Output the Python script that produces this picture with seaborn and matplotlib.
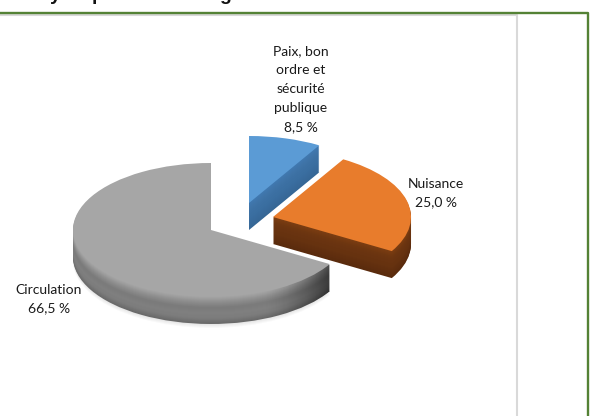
#!/usr/bin/env python3
# Exploded pseudo-3D pie of complaint types, drawn in pixel coordinates
import matplotlib
matplotlib.use('Agg')
import matplotlib.pyplot as plt
import numpy as np
import seaborn as sns
from matplotlib.path import Path
from matplotlib.transforms import Affine2D

categories = ['Circulation', 'Nuisance', 'Paix, bon\nordre et\nsécurité\npublique']
shares = [66.5, 25.0, 8.5]
share_labels = ['66,5 %', '25,0 %', '8,5 %']

top_colors = ['#a6a6a6', '#e87c2c', '#5b9bd5']
side_stops = [
    ['#a2a2a2', '#8c8c8c', '#7a7a7a', '#808080', '#7c7c7c', '#6a6a6a'],
    ['#7a3d12', '#6e3610', '#693310', '#66320f', '#602e0e', '#5a2b0d'],
    ['#4079b0', '#3f74a8', '#3c70a3', '#3a6ea0', '#386a9b', '#366796'],
]
centers = [(211, 230), (273, 217), (249, 203)]
radius_x, radius_y = 138, 67
depth = 27

sns.set_theme(style='white')
plt.rcParams['font.family'] = ['Lato', 'DejaVu Sans']

fig = plt.figure(figsize=(5.94, 4.16), dpi=100)
ax = fig.add_axes([0, 0, 1, 1])


def draw_layer(colors, offset, zorder, alpha=None):
    # pie gives the wedge angles, the affine moves each slice to its place
    wedges, _ = ax.pie(shares, colors=colors, startangle=90)
    paths = []
    for wedge, (cx, cy) in zip(wedges, centers):
        tr = Affine2D().scale(radius_x, -radius_y).translate(cx, cy + offset)
        wedge.set_transform(tr + ax.transData)
        wedge.set_zorder(zorder)
        wedge.set_linewidth(0)
        wedge.set_alpha(alpha)
        paths.append(wedge.get_path().transformed(tr))
    return paths


# soft shadow just under the slices
for d in range(depth + 4, depth, -1):
    draw_layer(['#000000', '#ffffff', '#ffffff'], d, 1.5, alpha=0.025)

# rim, one thin layer per pixel of depth
palettes = [sns.blend_palette(stops, depth) for stops in side_stops]
gray_side = []
for d in range(depth, 0, -1):
    layer = draw_layer([pal[d - 1] for pal in palettes], d, 2)
    gray_side.append(layer[0])
draw_layer(top_colors, 0, 5)

# darker end of the gray rim
shade = np.zeros((1, 64, 4))
shade[..., 3] = np.linspace(0, 0.7, 64) ** 1.6
img = ax.imshow(shade, extent=(262, 332, 330, 240), zorder=3, aspect='auto')
img.set_clip_path(Path.make_compound_path(*gray_side), transform=ax.transData)

ax.set_aspect('auto')
ax.set_xlim(0, 594)
ax.set_ylim(416, 0)
ax.axis('off')

# report frame and chart frame
ax.plot([0, 588, 588], [12.5, 12.5, 416], color='#548235', lw=1.7, zorder=6)
ax.plot([0, 517, 517], [15, 15, 416], color='#d9d9d9', lw=1.5, zorder=1)

text_kws = dict(fontsize=10, color='#1a1a1a', ha='center', va='center', zorder=7,
                linespacing=1.7)
ax.text(301, 89, categories[2] + '\n' + share_labels[2], **text_kws)
ax.text(436, 193, categories[1] + '\n' + share_labels[1], **text_kws)
ax.text(49, 299, categories[0] + '\n' + share_labels[0], **text_kws)

# only the descenders of the page title above the frame are in the crop
for x, glyph in [(55, 'y'), (98, 'p'), (225, 'g')]:
    ax.text(x, 0, glyph, fontsize=14, fontweight='bold', color='#111111', ha='center',
            va='baseline', zorder=7, family=['Liberation Sans', 'DejaVu Sans'])

fig.savefig('out.png', dpi=100)
